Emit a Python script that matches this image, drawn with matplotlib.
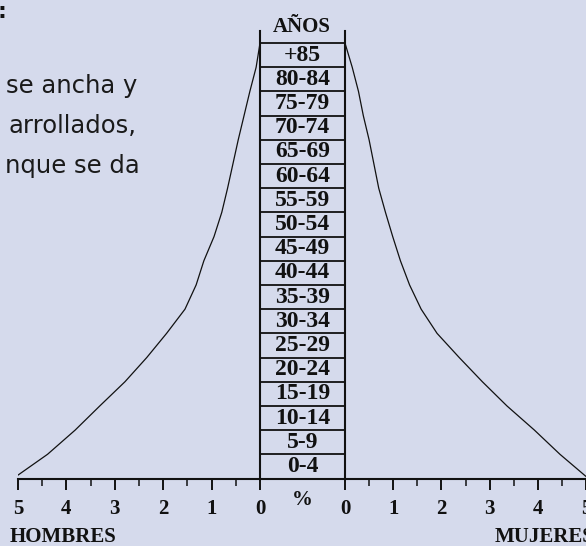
import numpy as np
import matplotlib.pyplot as plt
from matplotlib.ticker import MultipleLocator

grupos = ['0-4', '5-9', '10-14', '15-19', '20-24', '25-29', '30-34', '35-39', '40-44',
          '45-49', '50-54', '55-59', '60-64', '65-69', '70-74', '75-79', '80-84', '+85']
hombres = [5.1, 4.39, 3.82, 3.31, 2.79, 2.34, 1.93, 1.55, 1.32, 1.16, 0.95,
           0.79, 0.67, 0.56, 0.45, 0.33, 0.21, 0.08, 0.0]
mujeres = [5.05, 4.46, 3.93, 3.36, 2.85, 2.37, 1.91, 1.58, 1.34, 1.15, 0.99,
           0.84, 0.70, 0.60, 0.50, 0.38, 0.28, 0.15, 0.0]
escala = [0, 1, 2, 3, 4, 5]
parrafo = ['se ancha y', 'arrollados,', 'nque se da']

W, H = 586, 546
fondo = '#d5daec'
tinta = '#111111'
serif = 'Liberation Serif'


def caja(x0, y0, x1, y1):
    # pixeles (origen arriba a la izquierda) -> fraccion de figura
    return [x0 / W, 1 - y1 / H, (x1 - x0) / W, (y1 - y0) / H]


def fpx(x, y):
    return x / W, 1 - y / H


fig = plt.figure(figsize=(W / 100, H / 100), dpi=100)
fig.patch.set_facecolor(fondo)

n = len(grupos)
tope = n + 0.5
y_arriba, y_abajo = 31, 478.5

ax_h = fig.add_axes(caja(18, y_arriba, 260, y_abajo))
ax_c = fig.add_axes(caja(260, y_arriba, 345, y_abajo))
ax_m = fig.add_axes(caja(345, y_arriba, 586, y_abajo))

# lados de la piramide
for ax, valores in ((ax_h, hombres), (ax_m, mujeres)):
    ax.set_facecolor('none')
    ax.plot(valores, np.arange(len(valores)), color=tinta, lw=0.9)
    ax.set_ylim(0, tope)
    ax.set_xticks(escala)
    ax.xaxis.set_minor_locator(MultipleLocator(0.5))
    ax.tick_params(axis='x', which='major', length=8, width=1.4, pad=7,
                   labelsize=15, color=tinta, labelcolor=tinta)
    ax.tick_params(axis='x', which='minor', length=5, width=1.1, color=tinta)
    ax.set_yticks([])
    for s in ('top', 'left', 'right'):
        ax.spines[s].set_visible(False)
    ax.spines['bottom'].set_linewidth(1.5)
    ax.spines['bottom'].set_color(tinta)
    for lab in ax.get_xticklabels():
        lab.set_fontfamily(serif)
        lab.set_fontweight('bold')

ax_h.set_xlim(5, 0)
ax_m.set_xlim(0, 5)

# columna central con las edades
ax_c.set_facecolor('none')
ax_c.set_xlim(0, 1)
ax_c.set_ylim(0, tope)
ax_c.set_xticks([])
ax_c.set_yticks([])
ax_c.spines['top'].set_visible(False)
for s in ('left', 'right', 'bottom'):
    ax_c.spines[s].set_linewidth(1.5)
    ax_c.spines[s].set_color(tinta)
ax_c.hlines(np.arange(1, n + 1), 0, 1, color=tinta, lw=1.3)
for i, g in enumerate(grupos):
    ax_c.text(0.5, i + 0.5, g, ha='center', va='center', fontsize=17,
              fontweight='bold', family=serif, color=tinta)

fig.text(*fpx(302, 27), 'AÑOS', ha='center', va='center', fontsize=15,
         fontweight='bold', family=serif, color=tinta)
fig.text(*fpx(302, 500), '%', ha='center', va='center', fontsize=15,
         fontweight='bold', family=serif, color=tinta)
fig.text(*fpx(10, 537), 'HOMBRES', ha='left', va='center', fontsize=15,
         fontweight='bold', family=serif, color=tinta)
fig.text(*fpx(495, 537), 'MUJERES', ha='left', va='center', fontsize=15,
         fontweight='bold', family=serif, color=tinta)

# trozo de texto recortado arriba a la izquierda
fig.text(*fpx(-2, 18), ':', ha='left', va='baseline', fontsize=16,
         fontweight='bold', color=tinta)
for i, linea in enumerate(parrafo):
    fig.text(*fpx(72, 93 + 40 * i), linea, ha='center', va='baseline',
             fontsize=17.5, family='DejaVu Sans', color='#1a1a1a')

fig.savefig('out.png', dpi=100, facecolor=fondo)
